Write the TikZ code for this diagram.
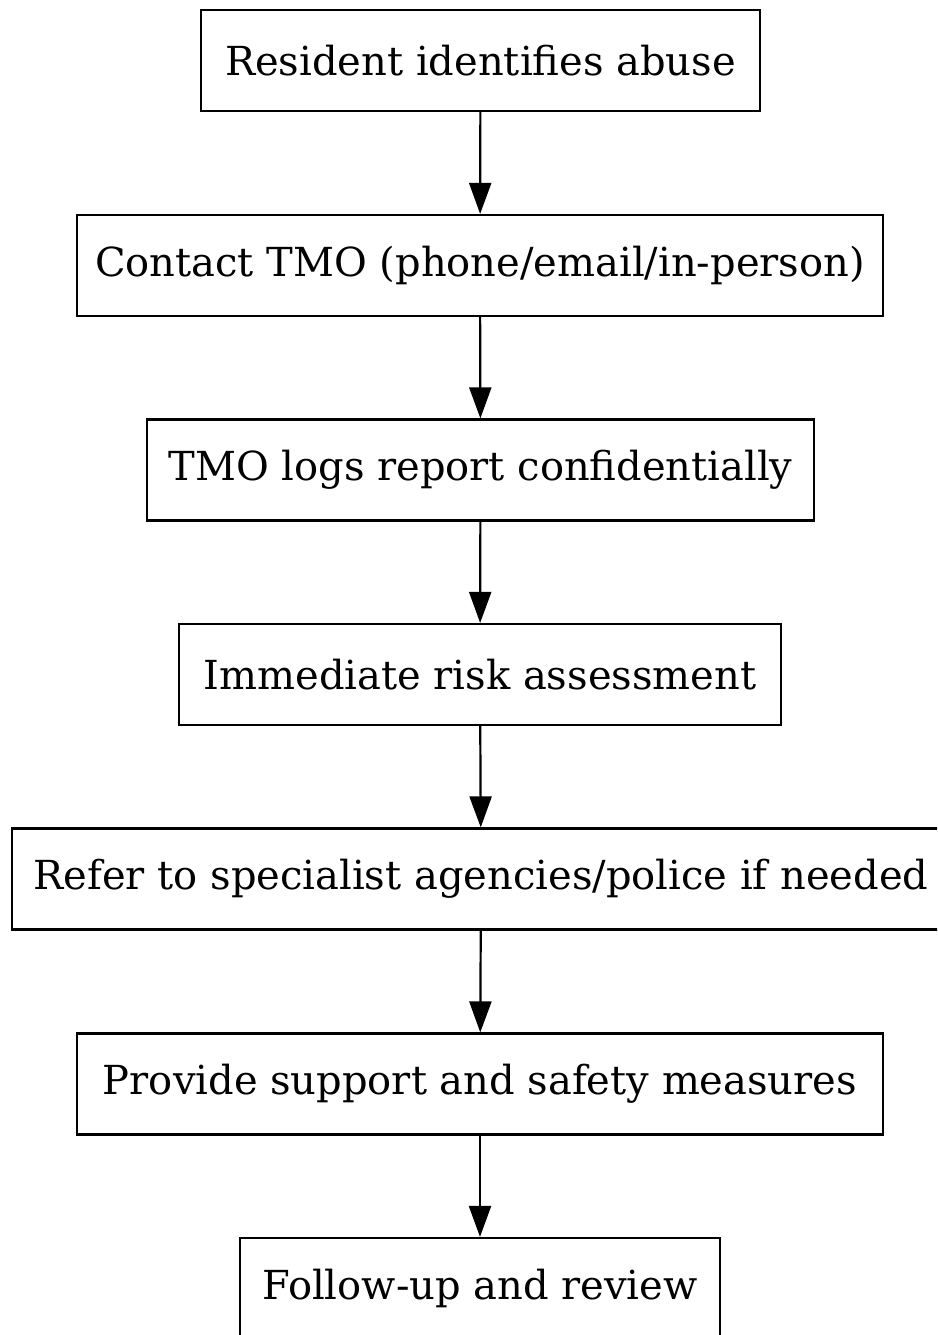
\documentclass[tikz,border=0pt]{standalone}
\usepackage{fontspec}
\setmainfont{DejaVu Serif}
\usetikzlibrary{arrows.meta}
\begin{document}
\begin{tikzpicture}[x=1pt,y=-1pt,
  box/.style={draw=black,line width=2.2pt,rectangle,inner sep=0pt,minimum height=101pt,font=\fontsize{40}{48}\selectfont,text=black},
  flow/.style={line width=2.2pt,-{Triangle[length=31pt,width=22pt]}}]
\useasboundingbox (0,0) rectangle (937,1335);
\clip (0,0) rectangle (937,1335);
\node[box,minimum width=559pt] (n1) at (480.5,60.5) {Resident identifies abuse};
\node[box,minimum width=806pt] (n2) at (480,265.5) {Contact TMO (phone/email/in-person)};
\node[box,minimum width=667pt] (n3) at (480.5,470) {TMO logs report confidentially};
\node[box,minimum width=602pt] (n4) at (480,674.5) {Immediate risk assessment};
\node[box,minimum width=938pt] (n5) at (481,879) {Refer to specialist agencies/police if needed};
\node[box,minimum width=806pt] (n6) at (480,1084) {Provide support and safety measures};
\node[box,minimum width=480pt] (n7) at (480,1288.5) {Follow-up and review};
\draw[flow] (n1) -- (n2);
\draw[flow] (n2) -- (n3);
\draw[flow] (n3) -- (n4);
\draw[flow] (n4) -- (n5);
\draw[flow] (n5) -- (n6);
\draw[flow] (n6) -- (n7);
\end{tikzpicture}
\end{document}
